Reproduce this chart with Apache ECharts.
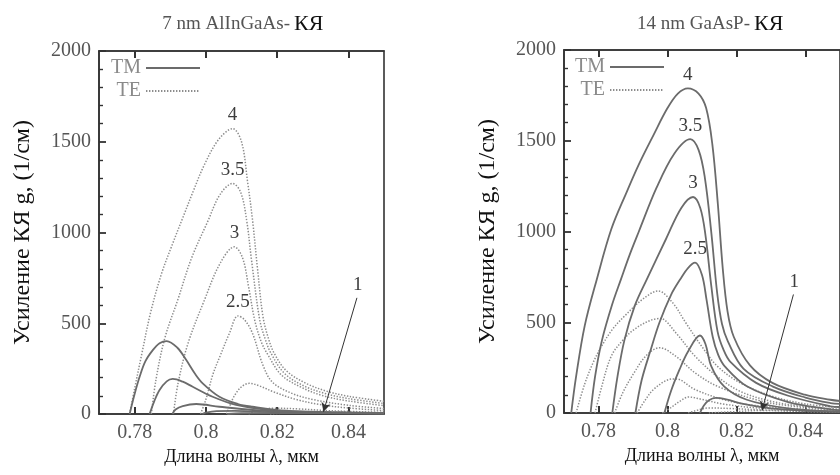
<!DOCTYPE html>
<html>
<head>
<meta charset="utf-8">
<script src="https://cdn.jsdelivr.net/npm/echarts@6/dist/echarts.min.js"></script>
<style>
  html, body { margin: 0; padding: 0; background: #fff; }
  #chart { width: 840px; height: 475px; }
</style>
</head>
<body>
<div id="chart"></div>
<script>
// Wavelength tick labels (мкм) and gain ticks (1/см)
const xTicks = [0.78, 0.8, 0.82, 0.84];
const yTicks = [0, 500, 1000, 1500, 2000];

// ---- 7 nm AlInGaAs QW: TE gain (dotted) ----
const alTE4  = [[0.7786,0],[0.7800,140],[0.7820,330],[0.7845,560],[0.7875,770],[0.7905,930],[0.7935,1080],[0.7965,1230],[0.7995,1370],[0.8035,1510],[0.8075,1572],[0.8100,1500],[0.8117,1280],[0.8131,1068],[0.8145,800],[0.8160,540],[0.8175,420],[0.8192,334],[0.8225,240],[0.8280,170],[0.8340,125],[0.8400,98],[0.8500,70]];
const alTE35 = [[0.7847,0],[0.7860,190],[0.7885,420],[0.7921,628],[0.7960,860],[0.8005,1060],[0.8040,1210],[0.8075,1270],[0.8098,1220],[0.8115,1060],[0.8128,850],[0.8151,520],[0.8167,410],[0.8183,334],[0.8220,225],[0.8275,155],[0.8340,110],[0.8400,85],[0.8500,58]];
const alTE3  = [[0.7909,0],[0.7922,170],[0.7950,390],[0.7996,628],[0.8040,830],[0.8080,921],[0.8103,860],[0.8120,700],[0.8137,518],[0.8155,400],[0.8173,330],[0.8212,215],[0.8270,145],[0.8330,100],[0.8400,72],[0.8500,46]];
const alTE25 = [[0.7985,0],[0.8000,80],[0.8020,220],[0.8040,320],[0.8066,444],[0.8090,540],[0.8108,520],[0.8131,444],[0.8160,270],[0.8187,175],[0.8240,115],[0.8300,80],[0.8400,48],[0.8500,30]];
const alTE2  = [[0.8058,0],[0.8066,40],[0.8080,100],[0.8100,150],[0.8122,169],[0.8150,155],[0.8190,122],[0.8250,82],[0.8320,52],[0.8400,33],[0.8500,19]];
const alTE15 = [[0.8120,0],[0.8145,18],[0.8190,32],[0.8260,28],[0.8350,18],[0.8500,9]];
const alTE1  = [[0.8180,0],[0.8250,8],[0.8330,12],[0.8420,9],[0.8500,5]];

// ---- 7 nm AlInGaAs QW: TM gain (solid) ----
const alTM4  = [[0.7786,0],[0.7800,110],[0.7814,205],[0.7830,290],[0.7851,352],[0.7870,390],[0.7890,402],[0.7920,365],[0.7945,297],[0.7970,220],[0.7991,169],[0.8038,95],[0.8090,55],[0.8131,40],[0.8225,18],[0.8350,10],[0.8500,6]];
const alTM35 = [[0.7842,0],[0.7855,70],[0.7870,132],[0.7890,180],[0.7907,193],[0.7935,178],[0.7963,150],[0.8019,95],[0.8085,50],[0.8178,22],[0.8300,10],[0.8500,5]];
const alTM3  = [[0.7906,0],[0.7915,25],[0.7935,44],[0.7973,55],[0.8038,40],[0.8131,22],[0.8250,10],[0.8500,4]];
const alTM25 = [[0.7990,0],[0.8000,8],[0.8030,16],[0.8080,17],[0.8150,12],[0.8300,6],[0.8500,3]];
const alTM2  = [[0.8060,0],[0.8100,4],[0.8200,5],[0.8500,2]];

// ---- 14 nm GaAsP QW: TM gain (solid) ----
const gpTM4  = [[0.7721,0],[0.7735,200],[0.7760,480],[0.7795,736],[0.7837,1012],[0.7880,1210],[0.7917,1370],[0.7959,1530],[0.8000,1680],[0.8030,1760],[0.8059,1789],[0.8090,1760],[0.8112,1680],[0.8130,1480],[0.8146,1150],[0.8160,800],[0.8174,560],[0.8192,420],[0.8239,262],[0.8304,166],[0.8398,101],[0.8472,73],[0.8500,66]];
const gpTM35 = [[0.7777,0],[0.7790,200],[0.7810,400],[0.7840,600],[0.7865,736],[0.7890,870],[0.7917,1000],[0.7968,1240],[0.8020,1430],[0.8066,1509],[0.8090,1450],[0.8108,1300],[0.8127,994],[0.8144,660],[0.8158,490],[0.8175,395],[0.8220,245],[0.8304,147],[0.8400,85],[0.8472,55],[0.8500,50]];
const gpTM3  = [[0.7840,0],[0.7855,200],[0.7875,400],[0.7905,590],[0.7940,736],[0.7996,960],[0.8040,1130],[0.8074,1190],[0.8095,1130],[0.8110,980],[0.8127,699],[0.8145,450],[0.8162,350],[0.8183,280],[0.8257,166],[0.8350,95],[0.8472,37],[0.8500,33]];
const gpTM25 = [[0.7907,0],[0.7925,180],[0.7950,340],[0.7977,500],[0.8010,650],[0.8038,740],[0.8060,800],[0.8080,828],[0.8100,760],[0.8113,626],[0.8131,420],[0.8147,320],[0.8166,257],[0.8230,147],[0.8350,60],[0.8472,20],[0.8500,16]];
const gpTM2  = [[0.7991,0],[0.8010,120],[0.8035,240],[0.8060,340],[0.8094,427],[0.8110,380],[0.8127,257],[0.8164,147],[0.8230,73],[0.8350,25],[0.8472,9],[0.8500,8]];
const gpTM15 = [[0.8094,0],[0.8105,40],[0.8120,70],[0.8140,83],[0.8170,75],[0.8220,50],[0.8300,25],[0.8400,12],[0.8500,7]];

// ---- 14 nm GaAsP QW: TE gain (dotted) ----
const gpTE4  = [[0.7735,0],[0.7760,160],[0.7785,280],[0.7809,368],[0.7840,460],[0.7875,533],[0.7930,630],[0.7973,672],[0.8015,607],[0.8052,500],[0.8099,368],[0.8145,257],[0.8211,166],[0.8304,92],[0.8400,50],[0.8500,30]];
const gpTE35 = [[0.7790,0],[0.7810,150],[0.7837,313],[0.7870,400],[0.7903,460],[0.7950,510],[0.7979,521],[0.8024,442],[0.8080,313],[0.8145,200],[0.8211,119],[0.8300,65],[0.8400,35],[0.8500,21]];
const gpTE3  = [[0.7847,0],[0.7870,110],[0.7903,221],[0.7940,320],[0.7977,359],[0.8024,313],[0.8080,221],[0.8145,147],[0.8257,73],[0.8350,40],[0.8500,15]];
const gpTE25 = [[0.7912,0],[0.7935,70],[0.7959,129],[0.8000,182],[0.8024,188],[0.8080,129],[0.8164,73],[0.8260,40],[0.8500,10]];
const gpTE2  = [[0.7985,0],[0.8010,30],[0.8040,70],[0.8061,88],[0.8100,75],[0.8160,50],[0.8260,28],[0.8500,8]];
const gpTE15 = [[0.8060,0],[0.8080,12],[0.8120,28],[0.8180,25],[0.8300,15],[0.8500,5]];
const gpTE1  = [[0.8120,0],[0.8180,6],[0.8274,14],[0.8400,8],[0.8500,4]];

// Curve parameter labels and the tail of the pointer to curve "1"
const curveTags = ['4', '3.5', '3', '2.5'];
const pointerFromLeft  = [0.8424, 640];
const pointerFromRight = [0.8365, 653];

const SERIF = 'Liberation Serif';
const AXIS_COLOR = '#333333';
const SOLID = { color: '#6b6b6b', width: 1.8, type: 'solid' };
const DOTS  = { color: '#8c8c8c', width: 1.5, type: [1.4, 1.6] };

// TM curves use the bottom wavelength axis, TE curves the (identical) top one,
// so both axes of each panel carry data and draw their ticks.
function curve(name, pts, panel, style, tag, pointer) {
  const s = {
    name: name,
    type: 'line',
    xAxisIndex: panel * 2 + (name === 'TE' ? 1 : 0),
    yAxisIndex: panel,
    data: pts,
    smooth: 0.35,
    showSymbol: false,
    symbol: 'none',
    lineStyle: style,
    itemStyle: { color: style.color },
    silent: true,
    z: style === SOLID ? 3 : 2
  };
  if (tag) {
    s.markPoint = {
      symbol: 'circle', symbolSize: 0,
      data: [{ type: 'max', valueDim: 'y' }],
      label: { show: true, position: 'top', distance: 4, formatter: tag,
               fontFamily: SERIF, fontSize: 19, color: '#3c3c3c' }
    };
  }
  if (pointer) {
    s.markLine = {
      silent: true,
      symbol: ['none', 'arrow'], symbolSize: [7, 9],
      lineStyle: { color: '#333', width: 1, type: 'solid' },
      label: { show: true, position: 'start', formatter: '1', distance: 3,
               fontFamily: SERIF, fontSize: 19, color: '#3c3c3c' },
      data: [[{ coord: pointer.from }, { coord: pointer.to }]]
    };
  }
  return s;
}

const series = [
  // 7 nm AlInGaAs
  curve('TE', alTE4, 0, DOTS, curveTags[0]),
  curve('TE', alTE35, 0, DOTS, curveTags[1]),
  curve('TE', alTE3, 0, DOTS, curveTags[2]),
  curve('TE', alTE25, 0, DOTS, curveTags[3]),
  curve('TE', alTE2, 0, DOTS),
  curve('TE', alTE15, 0, DOTS),
  curve('TE', alTE1, 0, DOTS, null, { from: pointerFromLeft, to: alTE1[2] }),
  curve('TM', alTM4, 0, SOLID),
  curve('TM', alTM35, 0, SOLID),
  curve('TM', alTM3, 0, SOLID),
  curve('TM', alTM25, 0, SOLID),
  curve('TM', alTM2, 0, SOLID),
  // 14 nm GaAsP
  curve('TM', gpTM4, 1, SOLID, curveTags[0]),
  curve('TM', gpTM35, 1, SOLID, curveTags[1]),
  curve('TM', gpTM3, 1, SOLID, curveTags[2]),
  curve('TM', gpTM25, 1, SOLID, curveTags[3]),
  curve('TM', gpTM2, 1, SOLID),
  curve('TM', gpTM15, 1, SOLID),
  curve('TE', gpTE4, 1, DOTS),
  curve('TE', gpTE35, 1, DOTS),
  curve('TE', gpTE3, 1, DOTS),
  curve('TE', gpTE25, 1, DOTS),
  curve('TE', gpTE2, 1, DOTS),
  curve('TE', gpTE15, 1, DOTS),
  curve('TE', gpTE1, 1, DOTS, null, { from: pointerFromRight, to: gpTE1[2] })
];

function xAxes(grid) {
  const common = {
    type: 'value', gridIndex: grid, min: 0.77, max: 0.85,
    splitLine: { show: false },
    axisLine: { show: true, onZero: false, lineStyle: { color: AXIS_COLOR, width: 1.6 } },
    axisTick: { show: true, inside: true, length: 7, customValues: xTicks,
                lineStyle: { color: AXIS_COLOR, width: 2 } }
  };
  return [
    Object.assign({}, common, {
      position: 'bottom',
      name: 'Длина волны λ, мкм', nameLocation: 'middle', nameGap: 31,
      nameTextStyle: { fontFamily: SERIF, fontSize: 18, color: '#111' },
      axisLabel: { customValues: xTicks, margin: 9, fontFamily: SERIF, fontSize: 20, color: '#555' }
    }),
    Object.assign({}, common, { position: 'top', axisLabel: { show: false } })
  ];
}

function yAxis(grid) {
  return {
    type: 'value', gridIndex: grid, min: yTicks[0], max: yTicks[yTicks.length - 1], interval: 500,
    position: 'left',
    name: 'Усиление КЯ g, (1/см)', nameLocation: 'middle', nameGap: 64, nameRotate: 90,
    nameTextStyle: { fontFamily: SERIF, fontSize: 24, color: '#111' },
    splitLine: { show: false },
    axisLine: { show: true, lineStyle: { color: AXIS_COLOR, width: 1.6 } },
    axisTick: { show: true, inside: true, length: 7, lineStyle: { color: AXIS_COLOR, width: 1.8 } },
    minorTick: { show: true, splitNumber: 5, length: 4, lineStyle: { color: AXIS_COLOR, width: 1.4 } },
    axisLabel: { margin: 8, fontFamily: SERIF, fontSize: 20, color: '#555',
                 formatter: v => String(v) }
  };
}

function legend(left, top) {
  return {
    left: left, top: top, orient: 'vertical', align: 'right',
    data: ['TM', 'TE'], selectedMode: false,
    itemWidth: 54, itemHeight: 12, itemGap: 3,
    itemStyle: { opacity: 0 },
    textStyle: { fontFamily: SERIF, fontSize: 20, color: '#8a8a8a', width: 36, align: 'left' }
  };
}

// Panel heading: grey material name followed by a darker "КЯ"
function heading(text, joinX) {
  return [
    { text: text, left: joinX, top: 10, textAlign: 'right',
      textStyle: { fontFamily: SERIF, fontWeight: 'normal', fontSize: 19, color: '#555' } },
    { text: 'КЯ', left: joinX + 4, top: 8, textAlign: 'left',
      textStyle: { fontFamily: SERIF, fontWeight: 'normal', fontSize: 22, color: '#111' } }
  ];
}

const chart = echarts.init(document.getElementById('chart'), null, { renderer: 'canvas' });
chart.setOption({
  animation: false,
  backgroundColor: '#fff',
  title: heading('7 nm AlInGaAs-', 285).concat(heading('14 nm GaAsP-', 745)),
  legend: [legend(106, 53), legend(570, 52)],
  grid: [
    { left: 99, top: 51, width: 285, height: 363, show: true, borderColor: AXIS_COLOR, borderWidth: 1.6 },
    { left: 564, top: 50, width: 286, height: 363, show: true, borderColor: AXIS_COLOR, borderWidth: 1.6 }
  ],
  xAxis: xAxes(0).concat(xAxes(1)),
  yAxis: [yAxis(0), yAxis(1)],
  series: series
});
</script>
</body>
</html>
